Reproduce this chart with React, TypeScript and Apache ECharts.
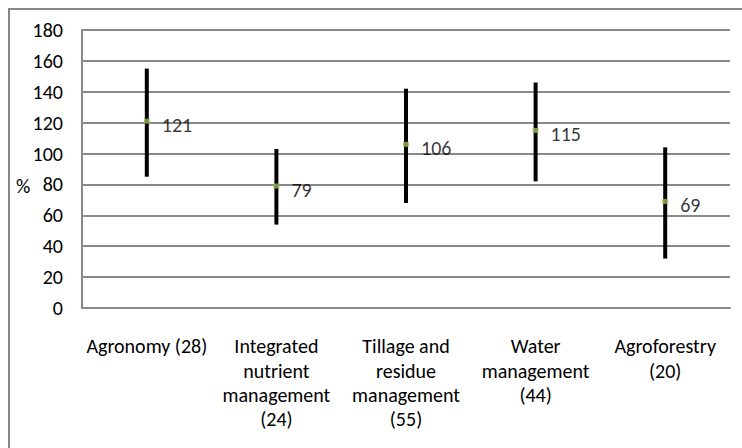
import React, { useEffect, useRef } from "react";
import * as echarts from "echarts";

const categories = [
  "Agronomy (28)",
  "Integrated\nnutrient\nmanagement\n(24)",
  "Tillage and\nresidue\nmanagement\n(55)",
  "Water\nmanagement\n(44)",
  "Agroforestry\n(20)",
];
const meanValues = [121, 79, 106, 115, 69];
const lowValues = [85, 54, 68, 82, 32];
const highValues = [155, 103, 142, 146, 104];
const yTicks = { min: 0, max: 180, interval: 20 };
const yName = "%";

const FONT = "Carlito, Calibri, Lato, sans-serif";

export default function App() {
  const ref = useRef<HTMLDivElement>(null);
  useEffect(() => {
    if (!ref.current) return;
    const chart = echarts.init(ref.current, undefined, { renderer: "svg" });
    const rangeData = categories.map((_, i) => [i, lowValues[i], highValues[i]]);
    chart.setOption({
      animation: false,
      backgroundColor: "#ffffff",
      grid: { left: 82, right: 12, top: 30, bottom: 140, containLabel: false },
      graphic: [
        {
          type: "rect",
          shape: { x: 9, y: 9, width: 800, height: 500 },
          style: { fill: "none", stroke: "#878787", lineWidth: 2 },
          silent: true,
          z: 0,
        },
        {
          type: "text",
          x: 16,
          y: 186,
          style: {
            text: yName,
            font: `20px ${FONT}`,
            fill: "#000",
            verticalAlign: "middle",
          },
        },
      ],
      xAxis: {
        type: "category",
        data: categories,
        boundaryGap: true,
        axisLine: { show: true, lineStyle: { color: "#898989", width: 2 } },
        axisTick: { show: false },
        axisLabel: {
          interval: 0,
          margin: 26,
          color: "#000",
          fontFamily: FONT,
          fontSize: 20,
          lineHeight: 24.4,
          align: "center",
        },
        splitLine: { show: false },
      },
      yAxis: {
        type: "value",
        min: yTicks.min,
        max: yTicks.max,
        interval: yTicks.interval,
        axisLine: { show: true, lineStyle: { color: "#898989", width: 2 } },
        axisTick: { show: false },
        axisLabel: {
          margin: 19,
          color: "#000",
          fontFamily: FONT,
          fontSize: 20,
        },
        splitLine: { show: true, lineStyle: { color: "#898989", width: 2 } },
      },
      series: [
        {
          type: "custom",
          data: rangeData,
          encode: { x: 0, y: [1, 2] },
          renderItem: (params: any, api: any) => {
            const x = api.value(0);
            const p1 = api.coord([x, api.value(1)]);
            const p2 = api.coord([x, api.value(2)]);
            return {
              type: "line",
              shape: { x1: p1[0], y1: p1[1], x2: p2[0], y2: p2[1] },
              style: { stroke: "#000", lineWidth: 4 },
            };
          },
          z: 3,
        },
        {
          type: "scatter",
          data: meanValues,
          symbol: "rect",
          symbolSize: [6, 5],
          itemStyle: { color: "#9bbb59" },
          label: {
            show: true,
            position: "right",
            distance: 12,
            offset: [0, 4],
            color: "#000",
            fontFamily: FONT,
            fontSize: 20,
          },
          z: 4,
        },
      ],
    });
    return () => chart.dispose();
  }, []);
  return <div ref={ref} style={{ width: 742, height: 448, position: "absolute", left: 0, top: 0 }} />;
}
